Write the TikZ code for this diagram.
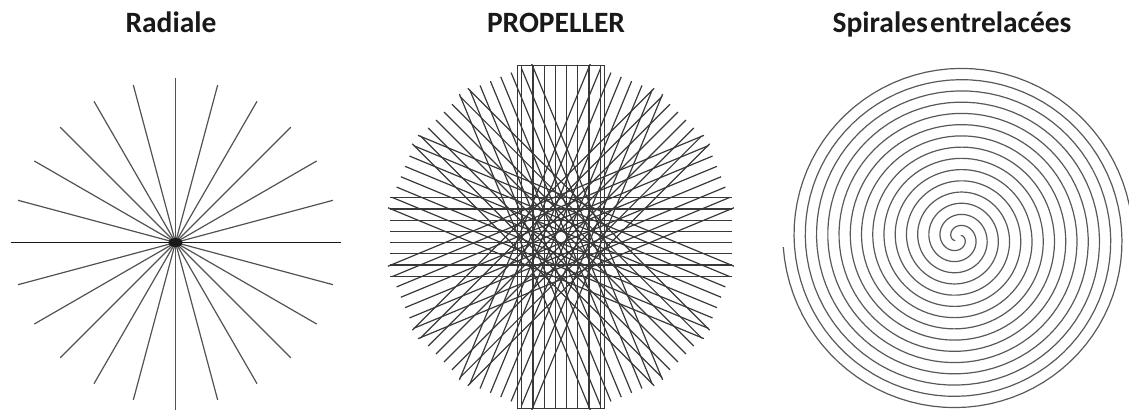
\documentclass[tikz,border=0pt]{standalone}
\usepackage{fontspec}
\setmainfont{Carlito}
\usetikzlibrary{positioning}

\begin{document}
\begin{tikzpicture}[
    x=1pt, y=1pt,
    titre/.style={font=\fontsize{29.5}{31}\selectfont\bfseries, text=black!90, anchor=base, inner sep=0pt},
    rayon/.style={draw=black!68, line width=1.2pt},
    pale/.style={draw=black!78, line width=1.2pt},
    spire/.style={draw=black!65, line width=1.2pt},
  ]
  \useasboundingbox (0,0) rectangle (1129,410);
  % --- Titres ---
  \node[titre] (tradiale) at (171,377) {Radiale};
  \node[titre] (tpropeller) at (556,377) {PROPELLER};
  \node[titre] (tspirale) at (952,377) {Spirales\hspace{.08em}entrelacées};

  % --- Radiale : 12 diamètres tous les 15 degrés ---
  \coordinate (crad) at (175.5,167.5);
  \begin{scope}[shift={(crad)}]
    \foreach \a in {15,30,45,60,75,105,120,135,150,165}
      \draw[rayon] (\a:163) -- ({\a+180}:163);
    \draw[rayon] (0,164.5) -- (0,-167.5);
    \draw[rayon, draw=black!90, line width=1.8pt] (-165,0) -- (165,0);
    \fill[black!90] (0,0) ellipse (7 and 4.5);
  \end{scope}

  % --- PROPELLER : 8 pales de 8 lignes ---
  \coordinate (cprop) at (561,173);
  \begin{scope}[shift={(cprop)}]
    \foreach \t in {0,22.5,45,67.5,90,112.5,135,157.5}
      \foreach \d in {-39.2,-28,-16.8,-5.6,5.6,16.8,28,39.2}
        \draw[pale, rotate=\t] (-171,\d) -- (171,\d);
    \draw[pale, rotate=90] (-171.5,-43.3) rectangle (171.5,43.3);
  \end{scope}

  % --- Spirales entrelacées : deux bras décalés de 180 degrés ---
  \coordinate (cspi) at (958,172);
  \begin{scope}[shift={(cspi)}]
    \clip (-180,-172) rectangle (171,200);
    \draw[spire] plot[domain=60:2800, samples=700, variable=\t] ({2983-\t}:{\t/16});
    \draw[spire] plot[domain=60:2800, samples=700, variable=\t] ({3163-\t}:{\t/16});
  \end{scope}
\end{tikzpicture}
\end{document}
